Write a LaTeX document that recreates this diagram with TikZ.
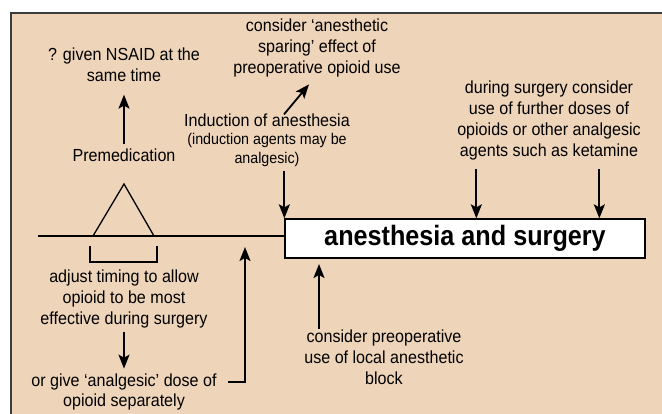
\documentclass[tikz,border=0pt]{standalone}
\usepackage{fontspec}
\setmainfont{Liberation Sans}[FakeStretch=0.92]
\newfontfamily\boxfont{Liberation Sans}[FakeStretch=0.9]
\usetikzlibrary{arrows.meta,calc,positioning}
\definecolor{peach}{RGB}{238,213,186}
\definecolor{rim}{RGB}{60,60,60}

\begin{document}
\begin{tikzpicture}[x=1pt,y=-1pt,>={Stealth[length=14pt,width=11pt,inset=3pt]},
  txt/.style={align=center,inner sep=1pt,font=\fontsize{17.5}{21}\selectfont},
  note/.style={align=center,inner sep=1pt,font=\fontsize{15.5}{19}\selectfont},
  arr/.style={->,line width=1.8pt},
  thin line/.style={line width=1.3pt}]
\useasboundingbox (0,0) rectangle (662,414);
\fill[peach] (11,13) rectangle (662,414);
\draw[rim,line width=1.3pt] (11,414) -- (11,13) -- (662,13);

% time line and box
\coordinate (start) at (38,236);
\node[draw,fill=white,thin line,minimum width=360pt,minimum height=39pt,inner sep=0pt,
      font=\boxfont\bfseries\fontsize{28}{30}\selectfont] (box) at (465,238.5) {anesthesia and surgery};
\draw[line width=1.6pt] (start) -- (start -| box.west);
\draw[thin line] (93,236) -- (124,184) -- (154,236);
\draw[thin line] (90,246) -- (90,262) -- (157,262) -- (157,246);

% texts
\node[txt] (nsaid) at (124,64.5) {? given NSAID at the\\same time};
\node[txt] (premed) at (124,155) {Premedication};
\node[txt] (induct) at (267,120) {Induction of anesthesia};
\node[note] (inote) at (267,149.5) {(induction agents may be\\analgesic)};
\node[txt] (spare) at (317,48) {consider ‘anesthetic\\sparing’ effect of\\preoperative opioid use};
\node[txt] (during) at (549,120.5) {during surgery consider\\use of further doses of\\opioids or other analgesic\\agents such as ketamine};
\node[txt] (adjust) at (124,298.5) {adjust timing to allow\\opioid to be most\\effective during surgery};
\node[txt] (orgive) at (124,382) {or give ‘analgesic’ dose of};
\node[txt] (orgive2) at (124,402) {opioid separately};
\node[txt] (local) at (384,357.5) {consider preoperative\\use of local anesthetic\\block};

\coordinate (tip1) at (245,247);
\coordinate (tip2) at (319,264);

% arrows
\draw[arr,shorten <=3pt,shorten >=12pt] (premed.north) -- (nsaid.south);
\draw[arr,shorten <=4pt] (inote.south -| box.north west) -- (box.north west);
\draw[arr] ($(induct.north)+(17,2)$) -- ($(spare.south)+(-8,6)$);
\foreach \dx in {192,315}
  \draw[arr] ($(box.north west)+(\dx,-49)$) -- ($(box.north west)+(\dx,0)$);
\draw[arr,shorten <=3pt,shorten >=4pt] (adjust.south) -- (orgive.north);
\draw[arr,shorten <=10pt] (orgive.east) -| (tip1);
\draw[arr] (local.north -| tip2) -- (tip2);
\end{tikzpicture}
\end{document}
